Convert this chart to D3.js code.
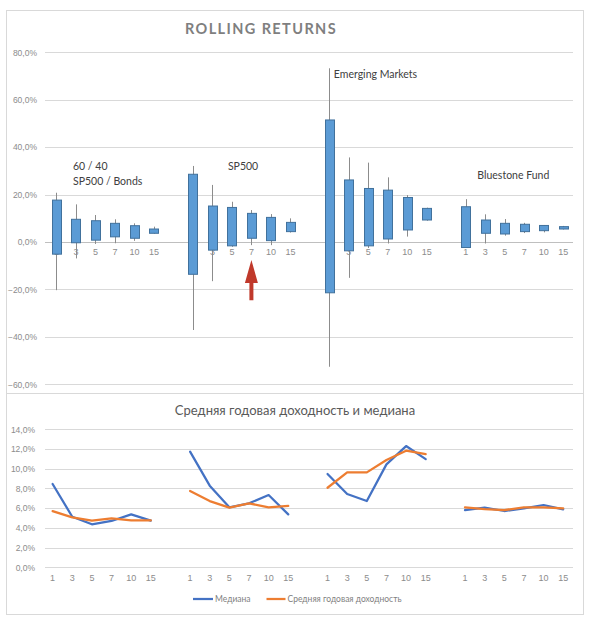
<!DOCTYPE html>
<html>
<head>
<meta charset="utf-8">
<script src="https://cdn.jsdelivr.net/npm/d3@7"></script>
<style>
  html, body { margin: 0; padding: 0; background: #fff; }
  svg { display: block; font-family: Lato, "Open Sans", "Liberation Sans", sans-serif; }
</style>
</head>
<body>
<svg id="chart" width="590" height="622"></svg>
<script>
// ---------- DATA ----------
const groups = ["60 / 40", "SP500", "Emerging Markets", "Bluestone Fund"];
const periods = ["1", "3", "5", "7", "10", "15"];

// Rolling returns (%), per group, per period
const high = [
  [20.8, 15.9, 11.4, 9.6, 7.9, 6.5],
  [32.1, 24.1, 17.0, 13.5, 11.8, 10.0],
  [73.3, 35.7, 33.5, 27.3, 19.8, 14.5],
  [18.1, 11.7, 9.7, 8.1, 7.2, 6.8]
];
const boxTop = [
  [17.7, 9.6, 9.0, 7.9, 6.9, 5.5],
  [28.6, 15.2, 14.6, 12.1, 10.4, 8.3],
  [51.5, 26.2, 22.6, 21.9, 18.8, 14.2],
  [14.9, 9.3, 7.9, 7.5, 7.0, 6.5]
];
const boxBottom = [
  [-5.1, -0.3, 0.8, 2.2, 1.6, 3.7],
  [-13.6, -3.4, -1.6, 1.6, 0.6, 4.4],
  [-21.4, -3.7, -1.6, 1.3, 5.1, 9.3],
  [-2.3, 3.7, 3.4, 4.4, 4.8, 5.5]
];
const low = [
  [-20.3, -6.9, -0.8, -0.5, 0.5, 3.5],
  [-37.1, -16.5, -2.0, -1.3, -1.3, 4.0],
  [-52.6, -15.1, -2.5, -0.6, 2.3, 9.0],
  [-2.5, -0.6, 2.7, 3.8, 4.1, 5.3]
];

// Average annual return & median (%)
const median = [
  [8.45, 5.13, 4.36, 4.70, 5.37, 4.73],
  [11.73, 8.28, 6.08, 6.49, 7.33, 5.37],
  [9.46, 7.43, 6.72, 10.44, 12.30, 10.98],
  [5.81, 6.05, 5.71, 5.98, 6.32, 5.88]
];
const meanReturn = [
  [5.70, 5.07, 4.73, 4.97, 4.75, 4.75],
  [7.74, 6.72, 6.05, 6.49, 6.08, 6.22],
  [8.07, 9.63, 9.63, 10.88, 11.83, 11.49],
  [6.08, 5.91, 5.81, 6.08, 6.08, 5.98]
];

const topTicks = [-60, -40, -20, 0, 20, 40, 60, 80];
const bottomTicks = [0, 2, 4, 6, 8, 10, 12, 14];
const titleTop = "ROLLING RETURNS";
const titleBottom = "Средняя годовая доходность и медиана";
const seriesNames = ["Медиана", "Средняя годовая доходность"];

// ---------- SETUP ----------
const svg = d3.select("#chart");
const ru = d3.formatLocale({ decimal: ",", thousands: " ", grouping: [3], currency: ["", ""] });
const pct = v => ru.format(".1f")(v) + "%";

// slots: 6 periods per group with one empty slot between groups
const slots = [];
groups.forEach((g, gi) => {
  periods.forEach(p => slots.push(g + "|" + p));
  if (gi < groups.length - 1) slots.push("gap" + gi);
});
const key = (gi, pi) => groups[gi] + "|" + periods[pi];

const gridColor = "#d9d9d9";
const textGray = "#8c8c8c";
const blue = "#5b9bd5", blueDark = "#41719c";

// frames
svg.append("rect").attr("x", 6.5).attr("y", 10.5).attr("width", 577).attr("height", 383)
  .attr("fill", "#fff").attr("stroke", gridColor);
svg.append("rect").attr("x", 6.5).attr("y", 393.5).attr("width", 577).attr("height", 221)
  .attr("fill", "#fff").attr("stroke", gridColor);

// ---------- TOP CHART ----------
const xTop = d3.scaleBand().domain(slots).range([46.75, 573]).padding(0);
const yTop = d3.scaleLinear().domain([-60, 80]).range([384.3, 52.4]);

svg.append("text").attr("x", 261).attr("y", 33.5).attr("text-anchor", "middle")
  .attr("font-size", 14.5).attr("font-weight", "bold").attr("fill", "#7f7f7f")
  .attr("letter-spacing", 1.4).text(titleTop);

// gridlines
svg.append("g").selectAll("line").data(topTicks.filter(t => t !== 0)).join("line")
  .attr("x1", 45).attr("x2", 573)
  .attr("y1", d => Math.round(yTop(d)) + 0.5).attr("y2", d => Math.round(yTop(d)) + 0.5)
  .attr("stroke", gridColor);

// y labels
const yAxisTop = d3.axisLeft(yTop).tickValues(topTicks).tickFormat(pct).tickSize(0).tickPadding(0);
svg.append("g").attr("transform", "translate(37,0)").call(yAxisTop)
  .call(g => g.select(".domain").remove())
  .call(g => g.selectAll("text").attr("font-size", 8.5).attr("fill", textGray).attr("font-family", null));

// category axis at zero
const xAxisTop = d3.axisBottom(xTop)
  .tickValues(slots.filter(s => s.indexOf("|") > 0))
  .tickFormat(s => s.split("|")[1]).tickSize(0).tickPadding(6.5);
svg.append("g").attr("transform", `translate(0,${Math.round(yTop(0)) + 0.5})`).call(xAxisTop)
  .call(g => g.select(".domain").attr("d", "M45,0H573").attr("stroke", "#bfbfbf"))
  .call(g => g.selectAll("text").attr("font-size", 9).attr("fill", textGray).attr("font-family", null));

// candles
const candles = [];
groups.forEach((g, gi) => periods.forEach((p, pi) => candles.push({
  k: key(gi, pi), hi: high[gi][pi], lo: low[gi][pi],
  top: boxTop[gi][pi], bot: boxBottom[gi][pi]
})));
const bw = 9;
const cg = svg.append("g");
cg.selectAll("line").data(candles).join("line")
  .attr("x1", d => Math.round(xTop(d.k) + xTop.bandwidth() / 2) + 0.5)
  .attr("x2", d => Math.round(xTop(d.k) + xTop.bandwidth() / 2) + 0.5)
  .attr("y1", d => yTop(d.hi)).attr("y2", d => yTop(d.lo))
  .attr("stroke", "#8c8c8c").attr("stroke-width", 1);
cg.selectAll("rect").data(candles).join("rect")
  .attr("x", d => Math.round(xTop(d.k) + xTop.bandwidth() / 2 - bw / 2) + 0.5)
  .attr("width", bw)
  .attr("y", d => yTop(d.top)).attr("height", d => yTop(d.bot) - yTop(d.top))
  .attr("fill", blue).attr("stroke", blueDark).attr("stroke-width", 1);

// group labels
const groupLabels = [
  { lines: ["60 / 40", "SP500 / Bonds"], slot: key(0, 1), dx: -3, v: 30.2 },
  { lines: ["SP500"], slot: key(1, 2), dx: -4, v: 30.2 },
  { lines: ["Emerging Markets"], slot: key(2, 0), dx: 4.5, v: 69.3 },
  { lines: ["Bluestone Fund"], slot: key(3, 0), dx: 11.5, v: 26.6 }
];
groupLabels.forEach(l => {
  const t = svg.append("text")
    .attr("x", xTop(l.slot) + xTop.bandwidth() / 2 + l.dx)
    .attr("y", yTop(l.v))
    .attr("font-size", 10.5).attr("fill", "#404040");
  l.lines.forEach((s, i) => t.append("tspan")
    .attr("x", xTop(l.slot) + xTop.bandwidth() / 2 + l.dx)
    .attr("dy", i === 0 ? 0 : 14.5).text(s));
});

// red arrow annotation (points to SP500, 7 years)
const arrow = { slot: key(1, 3), tip: -7.6, base: -24.5 };
{
  const cx = xTop(arrow.slot) + xTop.bandwidth() / 2;
  const yt = yTop(arrow.tip), yb = yTop(arrow.base);
  const hh = 23;
  const p = d3.path();
  p.moveTo(cx, yt);
  p.lineTo(cx + 6.5, yt + hh);
  p.lineTo(cx + 2, yt + hh);
  p.lineTo(cx + 2, yb);
  p.lineTo(cx - 2, yb);
  p.lineTo(cx - 2, yt + hh);
  p.lineTo(cx - 6.5, yt + hh);
  p.closePath();
  svg.append("path").attr("d", p.toString()).attr("fill", "#c0392b");
}

// ---------- BOTTOM CHART ----------
const xBot = d3.scaleBand().domain(slots).range([42.8, 573]).padding(0);
const yBot = d3.scaleLinear().domain([0, 14]).range([567.3, 429.3]);

svg.append("text").attr("x", 295).attr("y", 414.5).attr("text-anchor", "middle")
  .attr("font-size", 13).attr("fill", "#595959").text(titleBottom);

svg.append("g").selectAll("line").data(bottomTicks).join("line")
  .attr("x1", 45).attr("x2", 573)
  .attr("y1", d => Math.round(yBot(d)) + 0.5).attr("y2", d => Math.round(yBot(d)) + 0.5)
  .attr("stroke", gridColor);

const yAxisBot = d3.axisLeft(yBot).tickValues(bottomTicks).tickFormat(pct).tickSize(0).tickPadding(0);
svg.append("g").attr("transform", "translate(35,0)").call(yAxisBot)
  .call(g => g.select(".domain").remove())
  .call(g => g.selectAll("text").attr("font-size", 8.5).attr("fill", textGray).attr("font-family", null));

const xAxisBot = d3.axisBottom(xBot)
  .tickValues(slots.filter(s => s.indexOf("|") > 0))
  .tickFormat(s => s.split("|")[1]).tickSize(0).tickPadding(7);
svg.append("g").attr("transform", `translate(0,${yBot(0)})`).call(xAxisBot)
  .call(g => g.select(".domain").remove())
  .call(g => g.selectAll("text").attr("font-size", 9).attr("fill", textGray).attr("font-family", null));

const lineGen = d3.line()
  .x(d => xBot(d.k) + xBot.bandwidth() / 2)
  .y(d => yBot(d.v));
const seriesColors = ["#4472c4", "#ed7d31"];
[median, meanReturn].forEach((series, si) => {
  groups.forEach((g, gi) => {
    const pts = periods.map((p, pi) => ({ k: key(gi, pi), v: series[gi][pi] }));
    svg.append("path").attr("d", lineGen(pts))
      .attr("fill", "none").attr("stroke", seriesColors[si])
      .attr("stroke-width", 2.25).attr("stroke-linejoin", "round").attr("stroke-linecap", "round");
  });
});

// legend
const legend = [
  { x: 193, w: 20 },
  { x: 266.5, w: 19 }
];
seriesNames.forEach((n, i) => {
  const L = legend[i];
  svg.append("line").attr("x1", L.x).attr("x2", L.x + L.w).attr("y1", 599).attr("y2", 599)
    .attr("stroke", seriesColors[i]).attr("stroke-width", 2.25);
  svg.append("text").attr("x", L.x + L.w + 2).attr("y", 602)
    .attr("font-size", 8.5).attr("fill", "#7f7f7f").text(n);
});
</script>
</body>
</html>
